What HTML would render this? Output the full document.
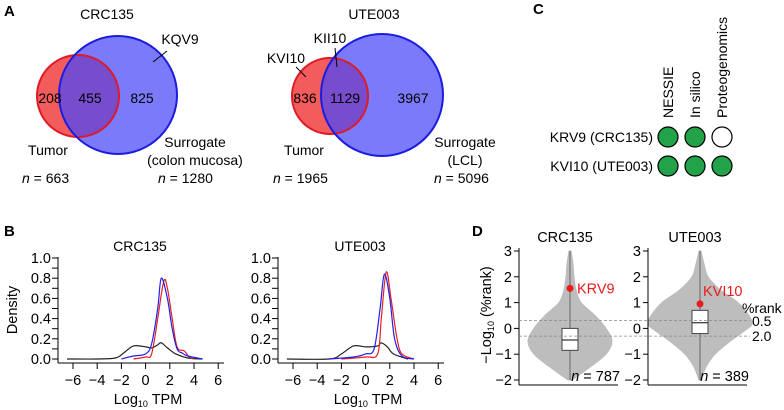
<!DOCTYPE html>
<html><head><meta charset="utf-8"><style>
body{margin:0;background:#fff}
svg{display:block;font-family:"Liberation Sans",Arial,sans-serif}
</style></head><body>
<svg id="fig" width="784" height="410" viewBox="0 0 784 410">
<!-- Panel A -->
<g font-size="14">
<text x="4" y="16" font-weight="bold" font-size="15">A</text>
<text x="107" y="19" text-anchor="middle">CRC135</text>
<circle cx="78" cy="96" r="41" fill="#f25c5c"/>
<circle cx="118" cy="95" r="59" fill="rgb(70,70,250)" fill-opacity="0.72"/>
<circle cx="78" cy="96" r="41" fill="none" stroke="#e01a25" stroke-width="2"/>
<circle cx="118" cy="95" r="59" fill="none" stroke="#1c1ce0" stroke-width="2"/>
<text x="50" y="103" text-anchor="middle">208</text>
<text x="90" y="103" text-anchor="middle">455</text>
<text x="142" y="103" text-anchor="middle">825</text>
<text x="180" y="44" text-anchor="middle">KQV9</text>
<line x1="153" y1="62" x2="167" y2="51" stroke="#000"/>
<text x="48" y="155" text-anchor="middle">Tumor</text>
<text x="195" y="147" text-anchor="middle">Surrogate</text>
<text x="195" y="165" text-anchor="middle">(colon mucosa)</text>
<text x="22" y="183"><tspan font-style="italic">n</tspan> = 663</text>
<text x="158" y="183"><tspan font-style="italic">n</tspan> = 1280</text>

<text x="374" y="19" text-anchor="middle">UTE003</text>
<circle cx="330" cy="96" r="38" fill="#f25c5c"/>
<circle cx="382" cy="95" r="61" fill="rgb(70,70,250)" fill-opacity="0.72"/>
<circle cx="330" cy="96" r="38" fill="none" stroke="#e01a25" stroke-width="2"/>
<circle cx="382" cy="95" r="61" fill="none" stroke="#1c1ce0" stroke-width="2"/>
<text x="305" y="103" text-anchor="middle">836</text>
<text x="345" y="103" text-anchor="middle">1129</text>
<text x="413" y="103" text-anchor="middle">3967</text>
<text x="286" y="63" text-anchor="middle">KVI10</text>
<line x1="296" y1="67" x2="306" y2="77" stroke="#000"/>
<text x="330" y="43" text-anchor="middle">KII10</text>
<line x1="335" y1="48" x2="337" y2="67" stroke="#000"/>
<text x="304" y="155" text-anchor="middle">Tumor</text>
<text x="465" y="147" text-anchor="middle">Surrogate</text>
<text x="465" y="165" text-anchor="middle">(LCL)</text>
<text x="273" y="183"><tspan font-style="italic">n</tspan> = 1965</text>
<text x="434" y="183"><tspan font-style="italic">n</tspan> = 5096</text>
</g>

<!-- Panel C -->
<g font-size="14">
<text x="533" y="14" font-weight="bold" font-size="15">C</text>
<text transform="translate(673,118) rotate(-90)">NESSIE</text>
<text transform="translate(700,118) rotate(-90)">In silico</text>
<text transform="translate(727,118) rotate(-90)">Proteogenomics</text>
<text x="653" y="142" text-anchor="end">KRV9 (CRC135)</text>
<text x="653" y="171" text-anchor="end">KVI10 (UTE003)</text>
<g stroke="#000" stroke-width="1.2">
<circle cx="668" cy="137" r="10" fill="#22a34a"/><circle cx="695" cy="137" r="10" fill="#22a34a"/><circle cx="722" cy="137" r="10" fill="#fff"/>
<circle cx="668" cy="166" r="10" fill="#22a34a"/><circle cx="695" cy="166" r="10" fill="#22a34a"/><circle cx="722" cy="166" r="10" fill="#22a34a"/>
</g>
</g>

<text x="4" y="236" font-weight="bold" font-size="15">B</text>
<text x="472" y="236" font-weight="bold" font-size="15">D</text>
<g id="panelB"></g>
<g id="panelD"></g>
</svg>
<script>
// Panel B data
const xTicksB = [-6,-4,-2,0,2,4,6];
const yTicksB = [0,0.2,0.4,0.6,0.8,1.0];
const crcBlackX = [-6.5,-4,-2.5,-1.8,-1,0,0.5,1,1.3,1.8,2.5,3.5,4.7];
const crcBlackY = [0,0,0.01,0.06,0.13,0.12,0.11,0.14,0.16,0.11,0.05,0.01,0];
const crcBlueX = [-2,-1,0,0.5,1,1.3,1.8,2.2,2.6,3,3.5,4.7];
const crcBlueY = [0,0.03,0.05,0.15,0.5,0.8,0.6,0.3,0.1,0.06,0.03,0];
const crcRedX = [-1,0,0.5,1,1.5,1.8,2.2,2.6,3.2,3.6,4];
const crcRedY = [0,0.02,0.05,0.4,0.77,0.7,0.4,0.12,0.08,0.02,0];
const uteBlackX = [-6.5,-3,-2,-1,0,1,1.3,1.8,2.3,3.5];
const uteBlackY = [0,0,0.05,0.13,0.12,0.13,0.16,0.12,0.05,0];
const uteBlueX = [-3,-1,0,0.7,1.2,1.55,2,2.4,3,4];
const uteBlueY = [0,0.02,0.05,0.1,0.5,0.84,0.6,0.2,0.03,0];
const uteRedX = [-2,0,1,1.3,1.7,2.1,2.6,3,4];
const uteRedY = [0,0.02,0.05,0.4,0.86,0.6,0.2,0.05,0];
// Panel D data
const yTicksD = [-2,-1,0,1,2,3];
const crcViolinY = [3,2.5,2,1.5,1,0.5,0,-0.5,-1,-1.5,-2];
const crcViolinW = [1,3,4,6,11,25,36,42,36,20,2];
const uteViolinY = [3,2.5,2,1.5,1,0.5,0.2,0,-0.5,-1,-1.5,-2];
const uteViolinW = [1,4,8,20,38,49,52,48,30,15,6,1];
const crcBox = [-0.85,-0.45,0];
const uteBox = [-0.2,0.22,0.7];
const crcPoint = 1.55, utePoint = 0.95;
const thresholds = [0.3,-0.3];

const NS='http://www.w3.org/2000/svg';
function mk(p,tag,at){const e=document.createElementNS(NS,tag);for(const k in at)e.setAttribute(k,at[k]);p.appendChild(e);return e;}
function txt(p,x,y,s,at){const e=mk(p,'text',Object.assign({x:x,y:y},at||{}));e.textContent=s;return e;}
function smooth(pts){
  let d='M'+pts[0][0].toFixed(1)+','+pts[0][1].toFixed(1);
  for(let i=0;i<pts.length-1;i++){
    const p0=pts[Math.max(0,i-1)],p1=pts[i],p2=pts[i+1],p3=pts[Math.min(pts.length-1,i+2)];
    const c1=[p1[0]+(p2[0]-p0[0])/6,p1[1]+(p2[1]-p0[1])/6];
    const c2=[p2[0]-(p3[0]-p1[0])/6,p2[1]-(p3[1]-p1[1])/6];
    d+='C'+c1.map(v=>v.toFixed(1))+' '+c2.map(v=>v.toFixed(1))+' '+p2.map(v=>v.toFixed(1));
  }
  return d;
}

const gB=document.getElementById('panelB');
function densityPlot(ox,title,series){
  const sx=v=>ox+73+(v+6)*12.1, sy=v=>359-v*101;
  const g=mk(gB,'g',{});
  
  
  txt(g,ox+140,251,title,{'text-anchor':'middle','font-size':14});
  mk(g,'line',{x1:ox+58,y1:257,x2:ox+58,y2:363,stroke:'#000'});
  mk(g,'line',{x1:ox+58,y1:363,x2:ox+224,y2:363,stroke:'#000'});
  for(let i=0;i<=10;i++){const y=sy(i/10);mk(g,'line',{x1:ox+52,y1:y,x2:ox+58,y2:y,stroke:'#000'});}
  yTicksB.forEach(v=>txt(g,ox+51,sy(v)+5,v.toFixed(1),{'text-anchor':'end','font-size':14.5}));
  xTicksB.forEach(v=>{mk(g,'line',{x1:sx(v),y1:363,x2:sx(v),y2:369,stroke:'#000'});txt(g,sx(v),385,(v<0?'\u2212'+(-v):v),{'text-anchor':'middle','font-size':14.5});});
  const t=txt(g,ox+148,404,'Log',{'text-anchor':'middle','font-size':14.5});
  const s1=mk(t,'tspan',{'font-size':9,dy:3});s1.textContent='10';
  const s2=mk(t,'tspan',{dy:-3});s2.textContent=' TPM';
  series.forEach(([xs,ys,c,n])=>{
    const d=smooth(xs.map((x,i)=>[sx(x),sy(ys[i])]));
    const p=mk(g,'path',{d:d,fill:'none',stroke:c,'stroke-width':1.2,'stroke-linejoin':'round'});
    
    
  });
}
densityPlot(0,'CRC135',[[crcBlackX,crcBlackY,'#222','density-crc135-black'],[crcRedX,crcRedY,'#e82020','density-crc135-red'],[crcBlueX,crcBlueY,'#2020ee','density-crc135-blue']]);
densityPlot(220,'UTE003',[[uteBlackX,uteBlackY,'#222','density-ute003-black'],[uteRedX,uteRedY,'#e82020','density-ute003-red'],[uteBlueX,uteBlueY,'#2020ee','density-ute003-blue']]);
const dl=txt(gB,0,0,'Density',{transform:'translate(17,310) rotate(-90)','text-anchor':'middle','font-size':14.5});

const gD=document.getElementById('panelD');
const syD=v=>328.4-v*25.8;
function violin(ax,cx,xr,title,vy,vw,box,pt,lab,labX,labY,nTxt){
  const g=mk(gD,'g',{});
  
  
  txt(g,cx-5,242,title,{'text-anchor':'middle','font-size':14.5});
  const right=vy.map((y,i)=>[cx+vw[i],syD(y)]);
  const left=vy.map((y,i)=>[cx-vw[i],syD(y)]).reverse();
  const d=smooth(right)+smooth(left).replace('M','L')+'Z';
  const v=mk(g,'path',{d:d,fill:'#bdbdbd',stroke:'#bdbdbd','stroke-linejoin':'round'});
  
  
  mk(g,'line',{x1:cx,y1:syD(3),x2:cx,y2:syD(-2),stroke:'#666'});
  mk(g,'rect',{x:cx-8,y:syD(box[2]),width:16,height:syD(box[0])-syD(box[2]),fill:'#fff',stroke:'#444'});
  mk(g,'line',{x1:cx-8,y1:syD(box[1]),x2:cx+8,y2:syD(box[1]),stroke:'#333','stroke-width':1.2});
  mk(g,'line',{x1:ax,y1:syD(3)-3,x2:ax,y2:385,stroke:'#000'});
  mk(g,'line',{x1:ax,y1:385,x2:xr,y2:385,stroke:'#000'});
  yTicksD.forEach(t=>{mk(g,'line',{x1:ax-5,y1:syD(t),x2:ax,y2:syD(t),stroke:'#000'});txt(g,ax-7,syD(t)+5,(t<0?'\u2212'+(-t):t),{'text-anchor':'end','font-size':14.5});});
  const c=mk(g,'circle',{cx:cx,cy:syD(pt),r:3.5,fill:'#e81c1c'});
  
  
  txt(g,labX,labY,lab,{fill:'#e81c1c','font-size':14.5});
  const n=txt(g,xr+2,381,'',{'text-anchor':'end','font-size':14.5});
  const it=mk(n,'tspan',{'font-style':'italic'});it.textContent='n';
  const r=mk(n,'tspan',{});r.textContent=' = '+nTxt;
}
violin(519,570,618,'CRC135',crcViolinY,crcViolinW,crcBox,crcPoint,'KRV9',577,syD(crcPoint)+5,'787');
violin(648,700,747,'UTE003',uteViolinY,uteViolinW,uteBox,utePoint,'KVI10',703,syD(1.45)+5,'389');
thresholds.forEach(t=>{const l=mk(gD,'line',{x1:519,y1:syD(t),x2:750,y2:syD(t),stroke:'#888','stroke-dasharray':'3,2','stroke-width':0.8});

});
txt(gD,742,313,'%rank',{'font-size':14});
txt(gD,752,326,'0.5',{'font-size':14});
txt(gD,752,341,'2.0',{'font-size':14});
const yl=txt(gD,0,0,'\u2212Log',{transform:'translate(491,315) rotate(-90)','text-anchor':'middle','font-size':14.5});
const a1=mk(yl,'tspan',{'font-size':9,dy:3});a1.textContent='10';
const a2=mk(yl,'tspan',{dy:-3});a2.textContent=' (%rank)';
</script>
</body></html>
